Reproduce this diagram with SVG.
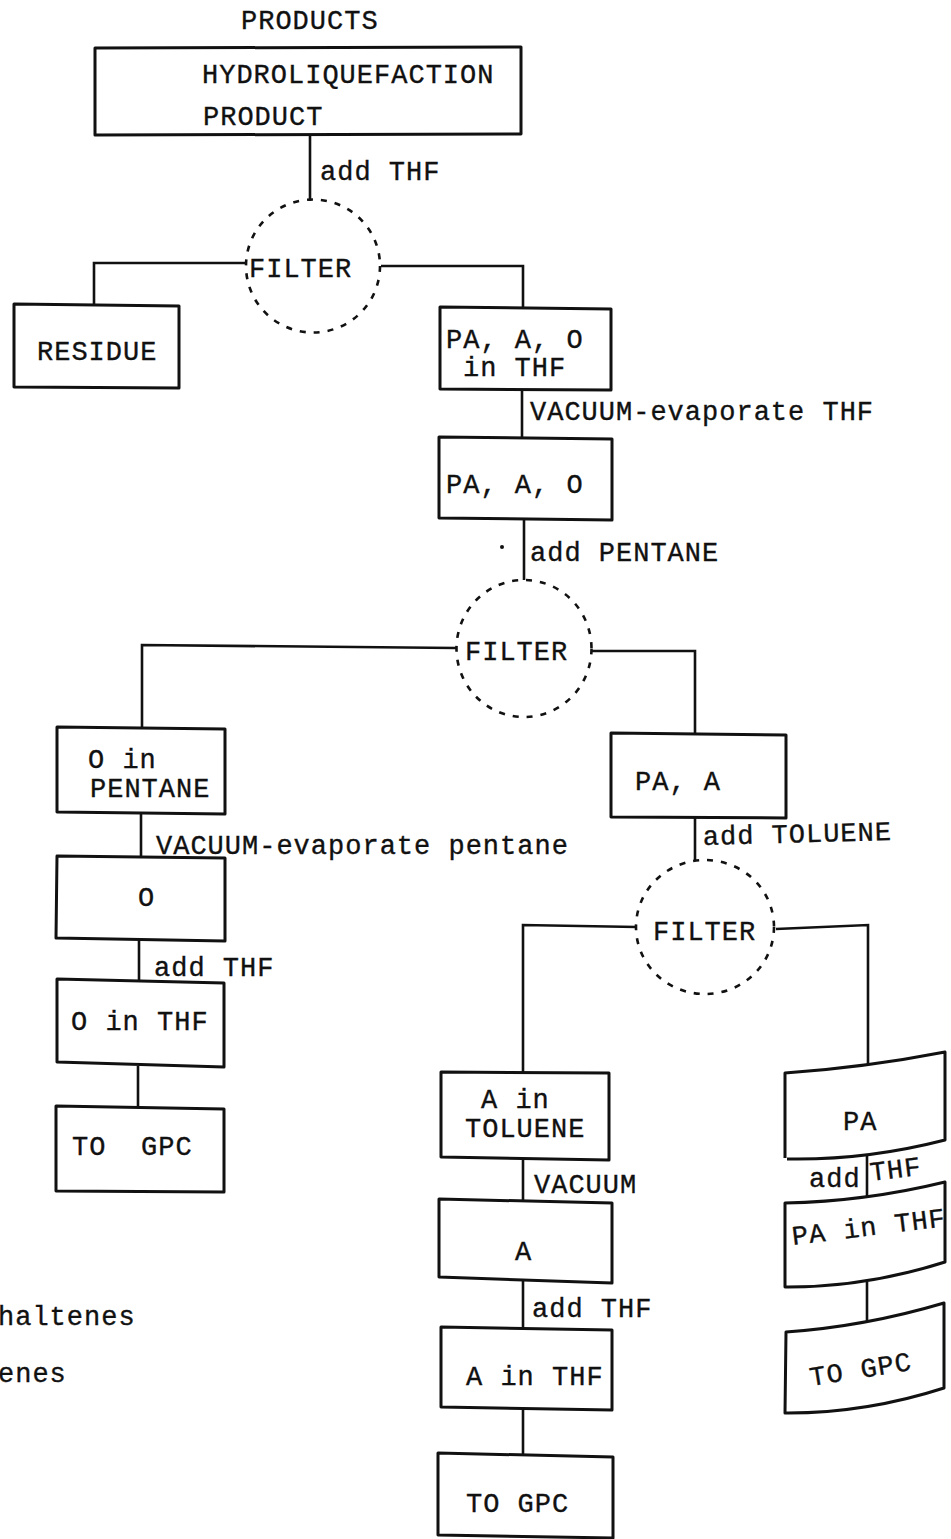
<svg xmlns="http://www.w3.org/2000/svg" width="951" height="1539" viewBox="0 0 951 1539">
<style>
  .bg{fill:#fff}
  .box{fill:none;stroke:#111;stroke-width:3;stroke-linejoin:round}
  .ln{fill:none;stroke:#111;stroke-width:2.6}
  .flt{fill:none;stroke:#111;stroke-width:2.6;stroke-dasharray:6 8}
  text{font-family:"Liberation Mono","DejaVu Sans Mono",monospace;font-size:27px;letter-spacing:1px;fill:#111;stroke:#111;stroke-width:0.35}
</style>
<rect class="bg" x="0" y="0" width="951" height="1539"/>

<g id="connectors">
  <path class="ln" d="M310,135 V201"/>
  <path class="ln" d="M246,263 H94 V304"/>
  <path class="ln" d="M381,266 H523 V307"/>
  <path class="ln" d="M522,390 V438"/>
  <path class="ln" d="M524,519 V580"/>
  <path class="ln" d="M456,648 L142,645 V727"/>
  <path class="ln" d="M592,651 H695 V733"/>
  <path class="ln" d="M695,817 V860"/>
  <path class="ln" d="M141,814 V857"/>
  <path class="ln" d="M139,940 V980"/>
  <path class="ln" d="M138,1066 V1107"/>
  <path class="ln" d="M637,927 L523,925 V1072"/>
  <path class="ln" d="M776,929 L868,925 V1065"/>
  <path class="ln" d="M523,1159 V1200"/>
  <path class="ln" d="M523,1281 V1328"/>
  <path class="ln" d="M523,1409 V1455"/>
  <path class="ln" d="M867,1155 V1198"/>
  <path class="ln" d="M867,1282 V1322"/>
  <circle cx="502" cy="547" r="2" fill="#111"/>
  <text x="320" y="180">add THF</text>
  <text x="530" y="420">VACUUM-evaporate THF</text>
  <text x="530" y="561">add PENTANE</text>
  <text x="156" y="854">VACUUM-evaporate pentane</text>
  <text x="703" y="845" transform="rotate(-1.5 703 845)">add TOLUENE</text>
  <text x="154" y="976">add THF</text>
  <text x="534" y="1193">VACUUM</text>
  <text x="532" y="1317">add THF</text>
  <text x="809" y="1187">add</text>
  <text x="871" y="1181" transform="rotate(-7 871 1181)">THF</text>
</g>

<g id="products-label"><text x="241" y="29">PRODUCTS</text></g>

<g id="hydro">
  <path class="box" d="M95,48 L521,47 L521,134 L95,135 Z"/>
  <text x="202" y="83">HYDROLIQUEFACTION</text>
  <text x="203" y="125">PRODUCT</text>
</g>

<g id="filter1">
  <ellipse class="flt" cx="313" cy="266" rx="67" ry="66.5"/>
  <text x="249" y="277">FILTER</text>
</g>

<g id="residue">
  <path class="box" d="M14,304 L179,306 L179,388 L14,387 Z"/>
  <text x="37" y="360">RESIDUE</text>
</g>

<g id="pao-thf">
  <path class="box" d="M440,307 L611,309 L611,390 L440,389 Z"/>
  <text x="446" y="348">PA, A, O</text>
  <text x="463" y="376">in THF</text>
</g>

<g id="pao">
  <path class="box" d="M439,437 L612,439 L612,520 L439,518 Z"/>
  <text x="446" y="493">PA, A, O</text>
</g>

<g id="filter2">
  <ellipse class="flt" cx="524" cy="648.5" rx="67.5" ry="68.5"/>
  <text x="465" y="660">FILTER</text>
</g>

<g id="o-pentane">
  <path class="box" d="M57,727 L225,729 L225,814 L57,812 Z"/>
  <text x="88" y="768">O in</text>
  <text x="90" y="797">PENTANE</text>
</g>

<g id="pa-a">
  <path class="box" d="M611,733 L786,735 L786,818 L611,817 Z"/>
  <text x="635" y="790">PA, A</text>
</g>

<g id="o">
  <path class="box" d="M57,856 L225,858 L225,941 L56,938 Z"/>
  <text x="138" y="906">O</text>
</g>

<g id="filter3">
  <ellipse class="flt" cx="705" cy="927" rx="69" ry="67"/>
  <text x="653" y="940">FILTER</text>
</g>

<g id="o-thf">
  <path class="box" d="M57,979 L224,983 L224,1067 L57,1062 Z"/>
  <text x="71" y="1030">O in THF</text>
</g>

<g id="to-gpc-o">
  <path class="box" d="M56,1106 L224,1109 L224,1192 L56,1191 Z"/>
  <text x="72" y="1155">TO</text>
  <text x="141" y="1155">GPC</text>
</g>

<g id="a-toluene">
  <path class="box" d="M441,1072 L609,1073 L609,1160 L441,1157 Z"/>
  <text x="481" y="1108">A in</text>
  <text x="465" y="1137">TOLUENE</text>
</g>

<g id="pa">
  <path class="box" d="M785,1158 L785,1073 Q865,1067.5 945,1052 L945,1140 Q865,1160.5 787,1159"/>
  <text x="843" y="1130">PA</text>
</g>

<g id="a">
  <path class="box" d="M439,1199 L612,1203 L612,1283 L439,1277 Z"/>
  <text x="515" y="1260">A</text>
</g>

<g id="pa-thf">
  <path class="box" d="M785,1287 L785,1203 Q865,1201.5 945,1182 L945,1262 Q865,1287.5 785,1287 Z"/>
  <text x="793" y="1245" transform="rotate(-7 793 1245)">PA in THF</text>
</g>

<g id="a-thf">
  <path class="box" d="M441,1327 L612,1330 L612,1410 L441,1407 Z"/>
  <text x="466" y="1385">A in THF</text>
</g>

<g id="to-gpc-a">
  <path class="box" d="M438,1453 L613,1457 L613,1538 L438,1535 Z"/>
  <text x="466" y="1512">TO GPC</text>
</g>

<g id="to-gpc-pa">
  <path class="box" d="M785,1413 L786,1332 Q865,1326.5 944,1303 L944,1388 Q865,1413.5 785,1413 Z"/>
  <text x="811" y="1386" transform="rotate(-9 811 1386)">TO GPC</text>
</g>

<g id="legend">
  <text x="-2" y="1325">haltenes</text>
  <text x="-2" y="1382">enes</text>
</g>
</svg>
